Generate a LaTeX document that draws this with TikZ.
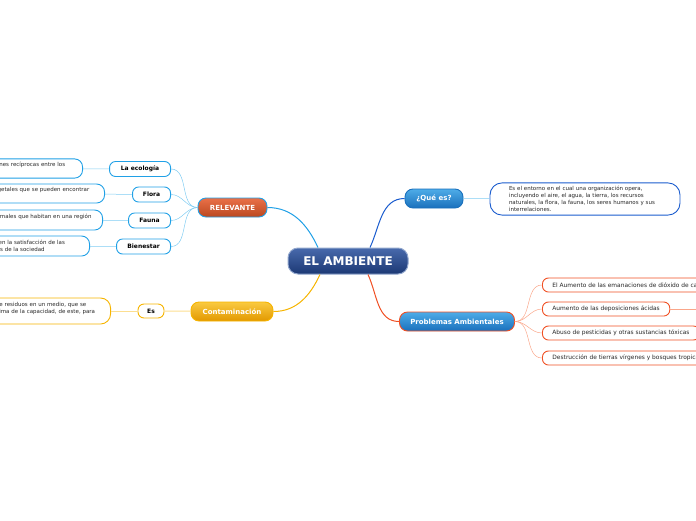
\documentclass[tikz,border=0pt]{standalone}
\usepackage{fontspec}
\setmainfont{DejaVu Sans}
\usetikzlibrary{positioning}
\usepackage{xcolor}
\definecolor{navytop}{RGB}{72,106,172}
\definecolor{navybot}{RGB}{28,56,116}
\definecolor{bluetop}{RGB}{78,172,232}
\definecolor{bluebot}{RGB}{26,112,188}
\definecolor{redtop}{RGB}{234,112,72}
\definecolor{redbot}{RGB}{186,72,32}
\definecolor{goldtop}{RGB}{250,202,64}
\definecolor{goldbot}{RGB}{226,152,0}
\definecolor{sky}{RGB}{32,160,230}
\definecolor{skyline}{RGB}{128,204,242}
\definecolor{royal}{RGB}{26,92,206}
\definecolor{flame}{RGB}{240,80,36}
\definecolor{flameline}{RGB}{250,166,138}
\definecolor{gold}{RGB}{246,180,0}
\definecolor{goldline}{RGB}{252,222,144}
\definecolor{ink}{RGB}{40,40,40}

\begin{document}
\begin{tikzpicture}[
    x=1pt, y=1pt,
    root/.style={rectangle, rounded corners=10pt, top color=navytop, bottom color=navybot, draw=navytop!60, line width=1pt, text=white, font=\fontsize{12}{14}\selectfont\bfseries, minimum height=26pt, minimum width=120pt},
    topic/.style={rectangle, rounded corners=8pt, line width=0.9pt, text=white, font=\fontsize{7}{8}\selectfont\bfseries, minimum height=19pt},
    sub/.style={rectangle, rounded corners=6pt, fill=white, line width=0.9pt, font=\fontsize{6}{7}\selectfont\bfseries, minimum height=15pt},
    leaf/.style={rectangle, rounded corners=8pt, fill=white, line width=0.9pt, font=\fontsize{5.5}{7}\selectfont, text=ink, align=left, inner xsep=8pt},
    item/.style={rectangle, rounded corners=6pt, fill=white, draw=flame, line width=0.9pt, font=\fontsize{5.9}{7}\selectfont, text=ink, minimum height=14pt, inner xsep=10pt, anchor=west},
    branch/.style={line width=1pt},
    twig/.style={line width=0.5pt},
]
\useasboundingbox (0,0) rectangle (696,-520);

% Center
\node[root] (amb) at (348,-261) {EL AMBIENTE};

% Que es
\node[topic, top color=bluetop, bottom color=bluebot, draw=bluebot, minimum width=58pt] (qes) at (434,-198.5) {¿Qué es?};
\node[leaf, draw=royal, text width=152pt, inner xsep=19pt, minimum height=32pt, rounded corners=12pt] (qdef) at (585,-199) {Es el entorno en el cual una organización opera,\\incluyendo el aire, el agua, la tierra, los recursos\\naturales, la flora, la fauna, los seres humanos y sus\\interrelaciones.};

% Problemas
\node[topic, top color=bluetop, bottom color=bluebot, draw=flame, minimum width=115pt] (pro) at (457,-321.5) {Problemas Ambientales};
\node[item] (p1) at (542,-285) {El Aumento de las emanaciones de dióxido de carbono};
\node[item] (p2) at (542,-309) {Aumento de las deposiciones ácidas};
\node[item] (p3) at (542,-333) {Abuso de pesticidas y otras sustancias tóxicas};
\node[item] (p4) at (542,-358) {Destrucción de tierras vírgenes y bosques tropicales};
\coordinate (p2end) at (700,-309);

% Relevante
\node[topic, top color=redtop, bottom color=redbot, draw=sky, minimum width=69pt] (rel) at (232.5,-207.5) {RELEVANTE};
\node[sub, draw=sky, minimum width=61pt, anchor=east] (eco) at (171,-169) {La ecología};
\node[sub, draw=sky, minimum width=38pt, anchor=east] (flo) at (171,-194.5) {Flora};
\node[sub, draw=sky, minimum width=42pt, anchor=east] (fau) at (171,-220.5) {Fauna};
\node[sub, draw=sky, minimum width=54pt, anchor=east] (bie) at (171,-246.5) {Bienestar};
\node[leaf, draw=sky, anchor=east, text width=159.5pt, minimum height=19pt] (ecod) at (83,-168.5) {Ciencia que estudia las relaciones recíprocas entre los\\seres vivos y su entorno};
\node[leaf, draw=sky, anchor=east, text width=166.5pt, minimum height=19pt] (flod) at (105,-193.5) {Conjunto de especies vegetales que se pueden encontrar\\en una región};
\node[leaf, draw=sky, anchor=east, text width=164pt, minimum height=20pt] (faud) at (103,-220) {Conjunto de especies animales que habitan en una región\\determinada};
\node[leaf, draw=sky, anchor=east, text width=184pt, minimum height=20pt] (bied) at (90,-246) {Conjunto de factores que participan en la satisfacción de las\\necesidades de las personas y grupos de la sociedad};

% Contaminacion
\node[topic, top color=goldtop, bottom color=goldbot, draw=gold, minimum width=82pt] (con) at (232,-311.5) {Contaminación};
\node[sub, draw=gold, minimum width=26pt, minimum height=14pt] (es) at (151,-311) {Es};
\node[leaf, draw=gold, anchor=east, text width=157.5pt, minimum height=26pt, rounded corners=10pt] (cond) at (111,-311) {Es toda presencia de residuos en un medio, que se\\encuentran por encima de la capacidad, de este, para\\eliminarlos.};

% Branches
\draw[branch, sky] ([xshift=-30pt]amb.north) to[out=115, in=0] (rel.east);
\draw[branch, royal] ([xshift=22pt]amb.north) to[out=65, in=180] (qes.west);
\draw[branch, gold] ([xshift=-28pt]amb.south) to[out=-115, in=0] (con.east);
\draw[branch, flame] ([xshift=20pt]amb.south) to[out=-65, in=180] (pro.west);

% Twigs
\foreach \n in {eco, flo, fau, bie}
  \draw[twig, skyline] (rel.west) to[out=180, in=0] (\n.east);
\draw[twig, skyline] (eco) -- (ecod);
\draw[twig, skyline] (flo) -- (flod);
\draw[twig, skyline] (fau) -- (faud);
\draw[twig, skyline] (bie) -- (bied);
\draw[twig, skyline] (qes) -- (qdef);
\foreach \n in {p1, p2, p3, p4}
  \draw[twig, flameline] (pro.east) to[out=0, in=180] (\n.west);
\draw[twig, flameline] (p2.east) -- (p2end);
\draw[twig, goldline, line width=1pt] (con) -- (es);
\draw[twig, goldline, line width=1pt] (es) -- (cond);

\end{tikzpicture}
\end{document}
